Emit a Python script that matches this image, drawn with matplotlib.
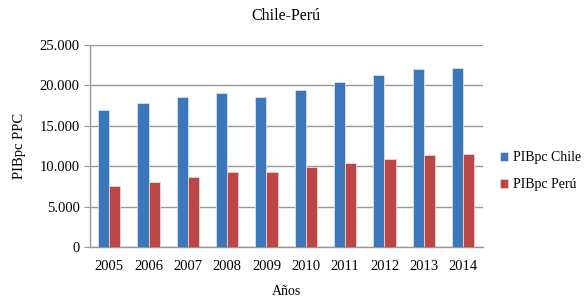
import matplotlib
matplotlib.use("Agg")
import matplotlib.pyplot as plt
import numpy as np
from matplotlib.ticker import FuncFormatter

years = ["2005", "2006", "2007", "2008", "2009", "2010", "2011", "2012", "2013", "2014"]
chile = [16950, 17860, 18530, 19020, 18530, 19430, 20420, 21330, 22030, 22150]
peru = [7550, 8000, 8620, 9280, 9280, 9940, 10430, 10890, 11390, 11510]
series_names = ["PIBpc Chile", "PIBpc Perú"]

plt.rcParams['font.family'] = ['Liberation Serif', 'DejaVu Serif']

fig = plt.figure(figsize=(5.87, 3.04), dpi=100)
ax = fig.add_axes([0.1525, 0.1875, 0.67, 0.6645])

x = np.arange(len(years))
w = 0.2857
c1 = "#3B77BA"
c2 = "#BC4645"
ax.bar(x - w/2, chile, w, color=c1, edgecolor="#d6e2f0", linewidth=0.6, label=series_names[0], zorder=3)
ax.bar(x + w/2, peru, w, color=c2, edgecolor="#eed3d3", linewidth=0.6, label=series_names[1], zorder=3)

ax.set_xlim(-0.5, len(years) - 0.5)
ax.set_ylim(0, 25000)
ax.set_yticks(np.arange(0, 25001, 5000))
ax.yaxis.set_major_formatter(FuncFormatter(lambda v, p: f"{int(v):,}".replace(",", ".")))
ax.set_xticks(x)
ax.set_xticklabels(years)
ax.grid(axis='y', color="#989898", linewidth=1.0, zorder=0)
for s in ["top", "right"]:
    ax.spines[s].set_visible(False)
for s in ["left", "bottom"]:
    ax.spines[s].set_color("#989898")
    ax.spines[s].set_linewidth(1.0)
ax.tick_params(axis='y', length=4, color="#989898", labelsize=10.5, pad=3)
ax.tick_params(axis='x', length=0, labelsize=10.5, pad=9)

ax.set_title("Chile-Perú", fontsize=11.5, pad=18)
ax.set_ylabel("PIBpc PPC", fontsize=10.5, labelpad=10)
ax.set_xlabel("Años", fontsize=10, labelpad=9)

handles, labels = ax.get_legend_handles_labels()
fig.legend(handles, labels, loc="center left", bbox_to_anchor=(0.852, 0.437), frameon=False,
           fontsize=10, handlelength=0.6, handleheight=0.6, handletextpad=0.35,
           labelspacing=1.0, borderpad=0, borderaxespad=0)

fig.savefig("out.png", dpi=100)
